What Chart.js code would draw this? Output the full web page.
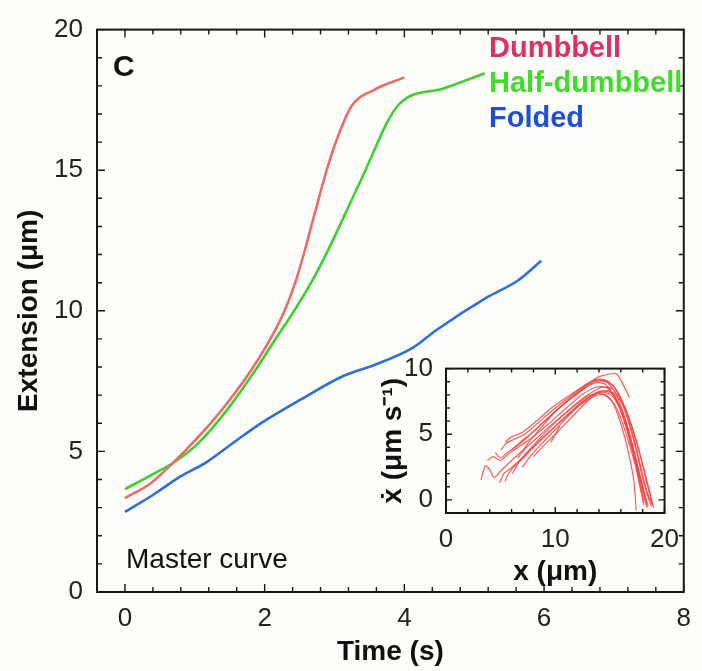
<!DOCTYPE html>
<html>
<head>
<meta charset="utf-8">
<script src="https://cdn.jsdelivr.net/npm/chart.js@4.4.1/dist/chart.umd.min.js"></script>
<style>
  html, body { margin: 0; padding: 0; background: #fdfdf9; }
  #wrap { position: relative; width: 702px; height: 671px; }
  #mainChart { position: absolute; left: 0; top: 0; }
  #insetChart { position: absolute; left: 360px; top: 340px; }
</style>
</head>
<body>
<div id="wrap">
  <canvas id="mainChart" width="702" height="671"></canvas>
  <canvas id="insetChart" width="330" height="260"></canvas>
</div>
<script>
// extension vs time, one curve per conformation
const dumbbellTime = [0, 0.37, 0.69, 0.93, 1.21, 1.49, 1.77, 2.06, 2.29, 2.45, 2.57, 2.71, 2.9, 3.08, 3.25, 3.56, 4.0];
const dumbbellExt  = [3.34, 3.87, 4.6, 5.2, 5.95, 6.8, 7.75, 8.9, 10.03, 11.1, 12.1, 13.4, 15.1, 16.4, 17.3, 17.85, 18.3];

const halfTime = [0, 0.37, 0.72, 1.07, 1.5, 1.87, 2.13, 2.43, 2.71, 2.95, 3.37, 3.93, 4.55, 5.15];
const halfExt  = [3.66, 4.15, 4.64, 5.34, 6.6, 7.9, 8.9, 10.03, 11.2, 12.37, 14.6, 17.36, 17.9, 18.45];

const foldedTime = [0, 0.4, 0.79, 1.17, 1.63, 2.01, 2.52, 3.14, 3.6, 4.13, 4.45, 5.2, 5.62, 5.96];
const foldedExt  = [2.85, 3.45, 4.1, 4.62, 5.45, 6.1, 6.85, 7.7, 8.1, 8.7, 9.3, 10.5, 11.07, 11.78];

const seriesNames = ['Dumbbell', 'Half-dumbbell', 'Folded'];
const lineColors  = ['#e86c6c', '#40cf30', '#2f6fd8'];
const labelColors = ['#df2f68', '#3fdc28', '#1e4fd6'];

// inset: velocity vs extension for individual molecules, [x, xdot]
const traceA = [[3.2,1.5],[3.6,2.6],[4.0,2.3],[4.4,1.7],[5.0,2.2],[6.0,3.0],[7.5,4.1],[9.5,5.6],[11.5,7.0],[13.0,7.9],[14.2,8.1],[15.2,7.5],[16.0,5.8],[16.7,3.6],[17.2,1.4],[17.4,-0.8]];
const traceB = [[4.5,3.6],[5.0,3.2],[5.6,3.6],[6.8,4.3],[8.5,5.6],[10.5,7.1],[12.3,8.3],[13.6,8.9],[14.6,8.8],[15.6,7.6],[16.6,5.2],[17.5,2.4],[18.2,0.3],[18.5,-0.5]];
const traceC = [[5.4,4.4],[6.0,4.8],[6.9,5.1],[8.0,5.8],[9.5,6.9],[11.0,7.8],[12.5,8.6],[13.8,9.1],[14.8,8.9],[15.7,7.8],[16.5,5.9],[17.3,3.4],[18.0,1.0],[18.4,-0.3]];
const traceD = [[4.9,1.3],[5.3,2.0],[5.9,2.4],[6.6,2.9],[7.8,3.9],[9.2,5.0],[10.8,6.2],[12.4,7.3],[13.6,7.9],[14.6,8.0],[15.6,7.0],[16.5,5.0],[17.3,2.7],[17.8,0.8],[18.1,-0.4]];
const traceE = [[5.4,1.4],[5.8,2.1],[6.3,2.6],[7.2,3.3],[8.5,4.4],[10.0,5.6],[11.5,6.8],[13.0,7.8],[14.2,8.3],[15.2,8.1],[16.2,6.6],[17.0,4.4],[17.7,2.0],[18.3,0.0]];
const traceF = [[6.1,2.0],[6.6,2.8],[7.4,3.6],[8.6,4.7],[10.0,5.9],[11.6,7.1],[13.0,8.0],[14.3,8.6],[15.3,8.4],[16.4,7.0],[17.3,4.8],[18.1,2.4],[18.7,0.4],[19.0,-0.6]];
const traceG = [[3.8,3.0],[4.3,3.3],[5.0,3.0],[5.7,3.5],[6.6,4.0],[7.8,4.7],[9.4,5.8],[11.0,7.0],[12.6,8.1],[13.8,8.6],[14.8,8.5],[15.8,7.2],[16.7,5.0],[17.4,2.6],[17.9,0.6],[18.1,-0.2]];
const traceH = [[6.6,3.2],[7.5,4.3],[8.8,5.6],[10.2,6.9],[11.6,7.9],[12.8,8.7],[13.8,9.3],[14.5,9.5],[15.6,9.6],[16.2,8.8],[16.8,7.8]];
const traceI = [[5.0,3.8],[5.5,4.3],[6.2,4.6],[7.2,5.0],[8.6,6.0],[10.0,7.0],[11.4,7.9],[12.8,8.8],[13.9,9.2],[14.9,9.0],[15.8,8.0],[16.6,6.2],[17.4,3.8],[18.0,1.6],[18.5,0.2],[18.8,-0.5]];
const traceJ = [[7.0,2.5],[7.8,3.4],[9.0,4.5],[10.4,5.7],[11.8,6.9],[13.1,7.8],[14.2,8.2],[15.1,8.0],[16.0,6.8],[16.8,4.8],[17.5,2.4],[18.0,0.6],[18.4,-0.6]];
const traceK = [[8.0,3.3],[8.8,4.0],[10.0,5.0],[11.4,6.2],[12.8,7.4],[14.0,8.2],[15.0,8.3],[16.1,7.4],[17.0,5.6],[17.8,3.3],[18.4,1.2],[18.9,-0.4]];
const traceL = [[6.0,3.8],[6.8,4.4],[8.0,5.2],[9.4,6.3],[10.8,7.3],[12.2,8.2],[13.4,8.9],[14.4,9.1],[15.4,8.6],[16.3,7.2],[17.1,5.0],[17.8,2.6],[18.4,0.6],[18.9,-0.4]];
const traceM = [[9.6,4.4],[10.0,5.0],[10.4,5.6]];
const insetTraces = [traceA, traceB, traceC, traceD, traceE, traceF, traceG, traceH, traceI, traceJ, traceK, traceL, traceM];

const FONT = '"Liberation Sans", Arial, Helvetica, sans-serif';

function pairs(xs, ys) {
  return xs.map((x, i) => ({ x: x, y: ys[i] }));
}

function onStep(v, step) {
  const r = v / step;
  return Math.abs(r - Math.round(r)) < 1e-6;
}

// box around the plot area with inward ticks on all four sides
const framePlugin = {
  id: 'frame',
  afterDraw(chart, args, opts) {
    const { ctx, chartArea: a, scales } = chart;
    ctx.save();
    ctx.strokeStyle = '#161616';
    ctx.lineWidth = 2;
    ctx.strokeRect(a.left, a.top, a.right - a.left, a.bottom - a.top);
    ctx.lineWidth = 1.4;
    ctx.beginPath();
    scales.x.ticks.forEach(t => {
      const px = scales.x.getPixelForValue(t.value);
      const len = onStep(t.value, opts.xMajor) ? opts.major : opts.minor;
      ctx.moveTo(px, a.bottom); ctx.lineTo(px, a.bottom - len);
      ctx.moveTo(px, a.top); ctx.lineTo(px, a.top + len);
    });
    scales.y.ticks.forEach(t => {
      const py = scales.y.getPixelForValue(t.value);
      const len = onStep(t.value, opts.yMajor) ? opts.major : opts.minor;
      ctx.moveTo(a.left, py); ctx.lineTo(a.left + len, py);
      ctx.moveTo(a.right, py); ctx.lineTo(a.right - len, py);
    });
    ctx.stroke();
    ctx.restore();
  }
};

// panel letter, legend text and the caption inside the main panel
const notesPlugin = {
  id: 'notes',
  afterDraw(chart) {
    const ctx = chart.ctx;
    ctx.save();
    ctx.textBaseline = 'alphabetic';
    ctx.textAlign = 'left';
    ctx.fillStyle = '#111';
    ctx.font = 'bold 30px ' + FONT;
    ctx.fillText('C', 113, 76);
    ctx.font = '28px ' + FONT;
    ctx.fillText('Master curve', 126, 568);
    ctx.font = 'bold 29px ' + FONT;
    chart.data.datasets.forEach((ds, i) => {
      ctx.fillStyle = ds.labelColor;
      ctx.fillText(ds.label, 489, 57 + 35 * i);
    });
    ctx.restore();
  }
};

const tickFont = { family: FONT, size: 26 };
const titleFont = { family: FONT, size: 28, weight: 'bold' };

new Chart(document.getElementById('mainChart'), {
  type: 'line',
  data: {
    datasets: [
      { label: seriesNames[0], data: pairs(dumbbellTime, dumbbellExt), borderColor: lineColors[0], labelColor: labelColors[0] },
      { label: seriesNames[1], data: pairs(halfTime, halfExt), borderColor: lineColors[1], labelColor: labelColors[1] },
      { label: seriesNames[2], data: pairs(foldedTime, foldedExt), borderColor: lineColors[2], labelColor: labelColors[2] }
    ]
  },
  options: {
    responsive: false,
    animation: false,
    layout: { padding: { top: 23, right: 10, left: 0, bottom: 0 } },
    elements: {
      point: { radius: 0 },
      line: { borderWidth: 2.6, tension: 0.4, cubicInterpolationMode: 'monotone', fill: false }
    },
    scales: {
      x: {
        type: 'linear', min: -0.4, max: 8,
        afterFit: s => { s.height = 79; },
        border: { display: false },
        grid: { display: false, drawTicks: false },
        ticks: {
          stepSize: 0.4, autoSkip: false, maxRotation: 0, padding: 11,
          color: '#222', font: tickFont,
          callback: v => (onStep(v, 2) && v >= 0 ? String(Math.round(v)) : '')
        },
        title: { display: true, text: 'Time (s)', color: '#111', font: titleFont, padding: { top: 0, bottom: 2 } }
      },
      y: {
        type: 'linear', min: 0, max: 20,
        afterFit: s => { s.width = 97; },
        border: { display: false },
        grid: { display: false, drawTicks: false },
        ticks: {
          stepSize: 1, autoSkip: false, padding: 14,
          color: '#222', font: tickFont,
          callback: v => (onStep(v, 5) ? String(Math.round(v)) : '')
        },
        title: { display: true, text: 'Extension (μm)', color: '#111', font: titleFont, padding: { top: 12, bottom: 0 } }
      }
    },
    plugins: {
      legend: { display: false },
      tooltip: { enabled: false },
      frame: { xMajor: 2, yMajor: 5, major: 8, minor: 5 }
    }
  },
  plugins: [framePlugin, notesPlugin]
});

new Chart(document.getElementById('insetChart'), {
  type: 'line',
  data: {
    datasets: insetTraces.map(tr => ({
      data: tr.map(p => ({ x: p[0], y: p[1] })),
      borderColor: 'rgba(240, 66, 66, 0.85)',
      borderWidth: 1.2
    }))
  },
  options: {
    responsive: false,
    animation: false,
    layout: { padding: { top: 25, right: 22, left: 0, bottom: 0 } },
    elements: {
      point: { radius: 0 },
      line: { tension: 0.25, fill: false }
    },
    scales: {
      x: {
        type: 'linear', min: 0, max: 20,
        afterFit: s => { s.height = 87; },
        border: { display: false },
        grid: { display: false, drawTicks: false },
        ticks: {
          stepSize: 2, autoSkip: false, maxRotation: 0, padding: 11,
          color: '#222', font: tickFont,
          callback: v => (onStep(v, 10) ? String(Math.round(v)) : '')
        },
        title: { display: true, text: 'x (μm)', color: '#111', font: titleFont, padding: { top: 0, bottom: 11 } }
      },
      y: {
        type: 'linear', min: -1, max: 10,
        afterFit: s => { s.width = 86; },
        border: { display: false },
        grid: { display: false, drawTicks: false },
        ticks: {
          stepSize: 1, autoSkip: false, padding: 13,
          color: '#222', font: tickFont,
          callback: v => (onStep(v, 5) && v >= 0 ? String(Math.round(v)) : '')
        },
        title: { display: true, text: 'ẋ (μm s⁻¹)', color: '#111', font: titleFont, padding: { top: 16, bottom: 0 } }
      }
    },
    plugins: {
      legend: { display: false },
      tooltip: { enabled: false },
      frame: { xMajor: 10, yMajor: 5, major: 6, minor: 4 }
    }
  },
  plugins: [framePlugin]
});
</script>
</body>
</html>
